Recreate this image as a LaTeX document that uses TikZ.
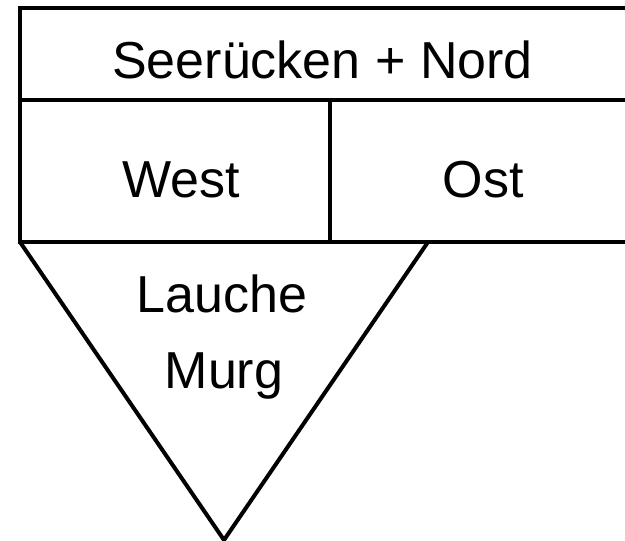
\documentclass[tikz,border=0pt]{standalone}
\usepackage{fontspec}
\setmainfont{Liberation Sans}
\begin{document}
\begin{tikzpicture}[x=1pt,y=-1pt,
  frame/.style={line width=4pt,line join=miter,black},
  lbl/.style={anchor=base,inner sep=0pt,font=\fontsize{52}{60}\selectfont}]
\useasboundingbox (0,0) rectangle (625,541);
% corner points of the table and the funnel
\coordinate (tl) at (20,8);
\coordinate (tr) at (627,8);
\coordinate (ml) at (20,100);
\coordinate (mr) at (627,100);
\coordinate (bl) at (20,242);
\coordinate (br) at (627,242);
\coordinate (dtop) at (330,100);
\coordinate (dbot) at (330,242);
\coordinate (vr) at (428,242);
\coordinate (apex) at (224,540);
% table frame
\draw[frame] (tr) -- (tl) -- (bl) -- (br);
\draw[frame] (ml) -- (mr);
\draw[frame] (dtop) -- (dbot);
% funnel
\draw[frame] (bl) -- (apex) -- (vr);
% labels
\node[lbl] (nord) at (322.5,78) {Seerücken + Nord};
\node[lbl] (west) at (181.5,197) {West};
\node[lbl] (ost) at (483,197) {Ost};
\node[lbl] (lauche) at (222,312) {Lauche};
\node[lbl] (murg) at (224,388) {Murg};
\end{tikzpicture}
\end{document}
